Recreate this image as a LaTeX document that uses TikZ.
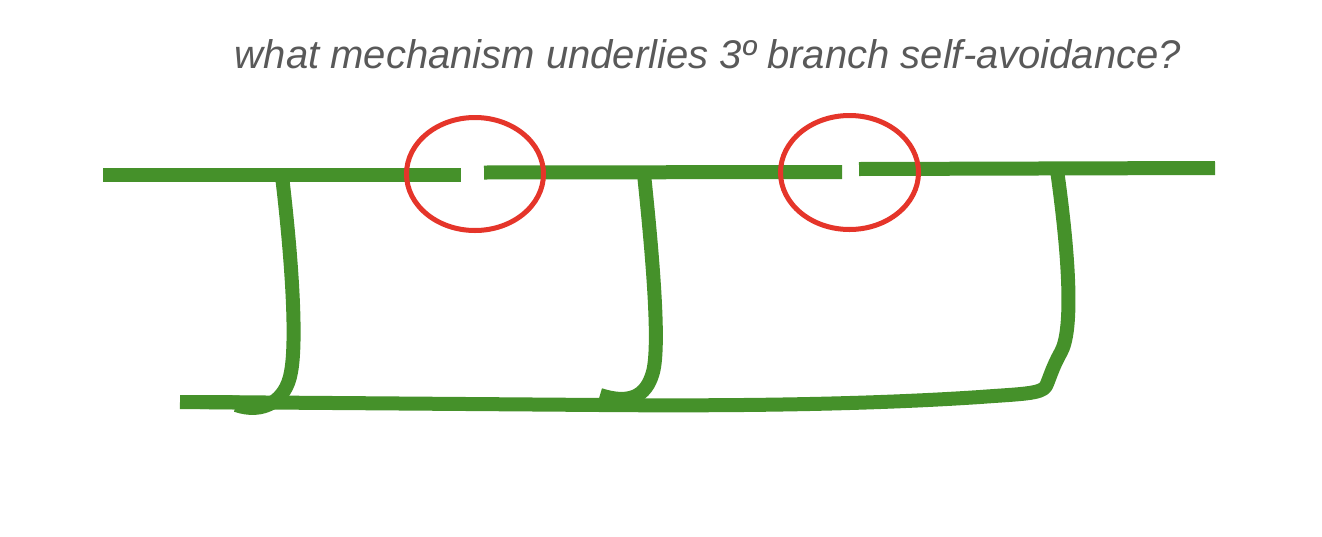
\documentclass[tikz,border=0pt]{standalone}
\usepackage{fontspec}
\setmainfont{Liberation Sans}
\definecolor{leaf}{HTML}{45912A}
\definecolor{ring}{HTML}{E5352A}
\definecolor{title}{HTML}{595959}
\begin{document}
\begin{tikzpicture}[x=1pt,y=-1pt,
  branch/.style={draw=leaf,line width=14pt,line join=round,line cap=butt},
  axon/.style={draw=leaf,line width=14pt,line cap=butt},
  gapring/.style={draw=ring,line width=5pt}]
\useasboundingbox (0,0) rectangle (1322,536);
\node[anchor=base,text=title,font=\fontsize{40}{48}\selectfont\itshape,inner sep=0pt] (q) at (708,68) {what mechanism underlies 3º branch self-avoidance?};
% branches
\path[branch] (282,176) .. controls (292,260) and (297,340) .. (291,372) .. controls (286,402) and (262,414) .. (236,405);
\path[branch] (644,174) .. controls (653,260) and (660,345) .. (653,372) .. controls (646,398) and (628,404) .. (600,395);
\path[branch] (1057,170) .. controls (1071,270) and (1072,332) .. (1061,352) .. controls (1052,368) and (1049,380) .. (1046,386) .. controls (1042,394) and (1020,394) .. (980,397) .. controls (860,405) and (720,406) .. (600,405) -- (200,402);
\path[axon] (180,402) -- (240,402.5);
% top lines
\path[axon] (103,175) -- (461,175);
\path[axon] (484,172.5) -- (842,172);
\path[axon] (859,169) -- (1215,168);
% rings
\draw[gapring] (475,174) ellipse [x radius=68.5,y radius=56.5];
\draw[gapring] (849.5,172.5) ellipse [x radius=69,y radius=57];
\end{tikzpicture}
\end{document}
